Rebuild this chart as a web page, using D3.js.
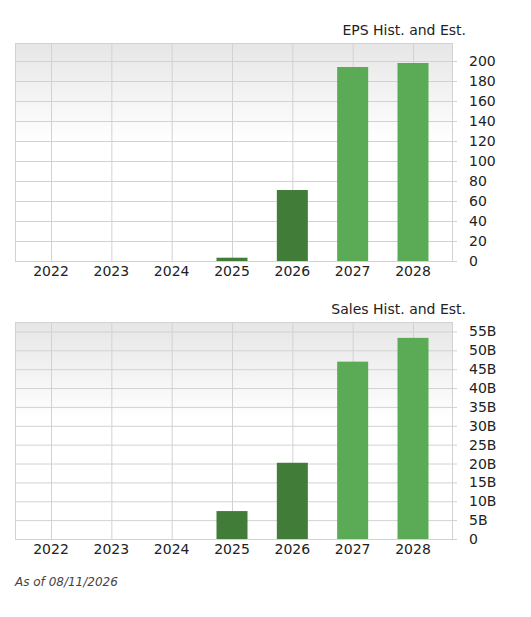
<!DOCTYPE html>
<html><head><meta charset="utf-8">
<script src="https://cdn.jsdelivr.net/npm/d3@7"></script>
<style>body{margin:0;background:#fff;font-family:"DejaVu Sans",sans-serif}</style>
</head><body><svg id="c" width="531" height="617"></svg>
<script>
const years = ["2022","2023","2024","2025","2026","2027","2028"];
const epsValues = [null, null, null, 3.3, 71, 194, 198];
const salesValues = [null, null, null, 7.4, 20.2, 47.0, 53.3];
const histCount = 5; // 2022-2026 are historical (dark)
const epsTicks = d3.range(0, 201, 20);
const salesTicks = d3.range(0, 56, 5);

const svg = d3.select("#c");
const defs = svg.append("defs");
const grad = defs.append("linearGradient").attr("id", "bg").attr("x1", 0).attr("x2", 0).attr("y1", 0).attr("y2", 1);
grad.append("stop").attr("offset", "0%").attr("stop-color", "#e6e6e6");
grad.append("stop").attr("offset", "45%").attr("stop-color", "#ffffff");
grad.append("stop").attr("offset", "100%").attr("stop-color", "#ffffff");

function drawChart(top, bottom, maxVal, values, ticks, fmt, title) {
  const left = 15, right = 452;
  const x = d3.scaleLinear().domain([0, 6]).range([51, 413]);
  const y = d3.scaleLinear().domain([0, maxVal]).range([bottom, top]);
  const g = svg.append("g");

  g.append("rect").attr("x", left).attr("y", top).attr("width", right - left).attr("height", bottom - top)
    .attr("fill", "url(#bg)");

  // horizontal grid
  g.selectAll(".hg").data(ticks).enter().append("line")
    .attr("x1", left).attr("x2", right + 5).attr("y1", d => y(d) + 0.5).attr("y2", d => y(d) + 0.5)
    .attr("stroke", "#d2d2d2");
  // vertical grid
  g.selectAll(".vg").data(years).enter().append("line")
    .attr("x1", (d, i) => x(i) + 0.5).attr("x2", (d, i) => x(i) + 0.5).attr("y1", top).attr("y2", bottom)
    .attr("stroke", "#d2d2d2");
  g.append("rect").attr("x", left + 0.5).attr("y", top + 0.5).attr("width", right - left).attr("height", bottom - top)
    .attr("fill", "none").attr("stroke", "#d2d2d2");

  // bars
  g.selectAll(".bar").data(values.map((v, i) => ({ v, i })).filter(d => d.v != null)).enter().append("rect")
    .attr("x", d => x(d.i) - 15.5).attr("width", 31)
    .attr("y", d => y(d.v)).attr("height", d => bottom - y(d.v))
    .attr("fill", d => d.i < histCount ? "#417d38" : "#5bab56");

  // y labels
  g.selectAll(".yl").data(ticks).enter().append("text")
    .attr("x", 469).attr("y", d => y(d) + 5).text(fmt)
    .attr("font-size", 14).attr("fill", "#222");
  // x labels
  g.selectAll(".xl").data(years).enter().append("text")
    .attr("x", (d, i) => x(i)).attr("y", bottom + 15).attr("text-anchor", "middle").text(d => d)
    .attr("font-size", 14).attr("fill", "#222");

  g.append("text").attr("x", 466).attr("y", top - 8).attr("text-anchor", "end").text(title)
    .attr("font-size", 14).attr("fill", "#222");
}

drawChart(43, 261, 218, epsValues, epsTicks, d => d, "EPS Hist. and Est.");
drawChart(322, 539, 57.5, salesValues, salesTicks, d => d === 0 ? "0" : d + "B", "Sales Hist. and Est.");

svg.append("text").attr("x", 15).attr("y", 586).text("As of 08/11/2026")
  .attr("font-size", 12).attr("font-style", "italic").attr("fill", "#444");
</script></body></html>
